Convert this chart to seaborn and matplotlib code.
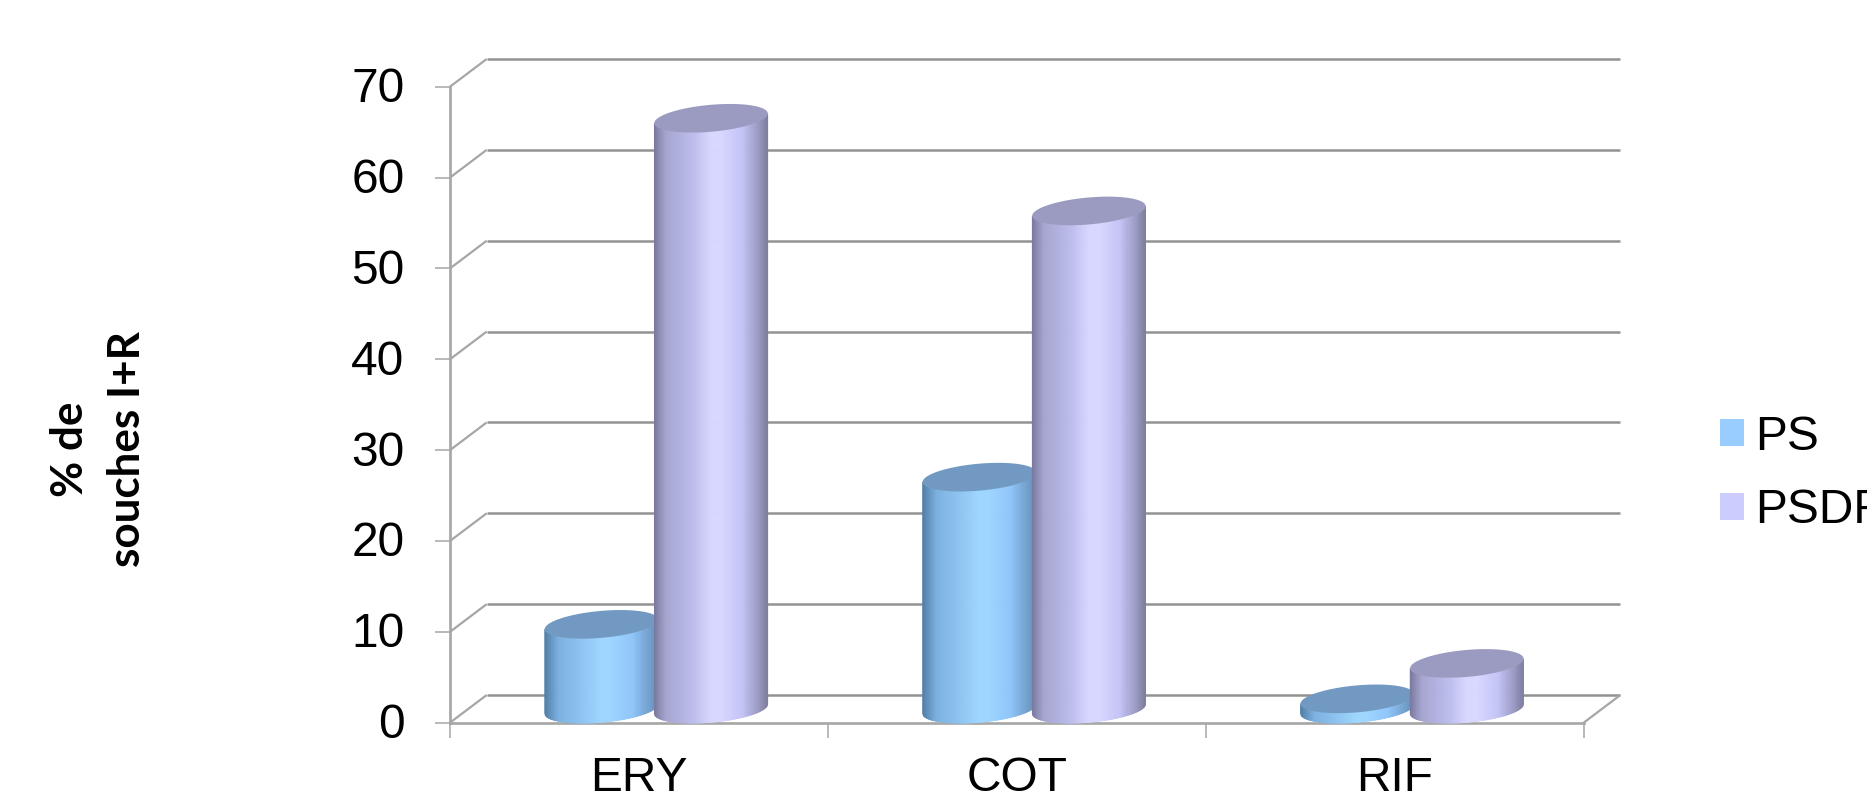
import numpy as np
import pandas as pd
import matplotlib
matplotlib.use("Agg")
import matplotlib.pyplot as plt
import seaborn as sns
from matplotlib.collections import PolyCollection
from matplotlib.colors import LinearSegmentedColormap
from matplotlib.lines import Line2D
from matplotlib.patches import Patch, Polygon
from matplotlib.transforms import Affine2D, IdentityTransform

# Resistance rates per antibiotic
categories = ["ERY", "COT", "RIF"]
series_names = ["PS", "PSDF"]
ps_values = [9.3, 25.5, 1.1]
psdf_values = [65, 54.8, 5]
y_ticks = [0, 10, 20, 30, 40, 50, 60, 70]

legend_colors = {"PS": "#99CCFF", "PSDF": "#CCCCFF"}
cap_colors = {"PS": "#7299C2", "PSDF": "#9B9BC2"}
side_stops = {
    "PS": [(0, "#527FA6"), (0.12, "#7DB0E0"), (0.5, "#9ED6FF"), (0.58, "#9ED6FF"),
           (0.78, "#90C6FA"), (1, "#668FB8")],
    "PSDF": [(0, "#7A7AA0"), (0.1, "#A5A5D0"), (0.35, "#BEBEEE"), (0.5, "#D7D7FF"),
             (0.6, "#D7D7FF"), (0.78, "#C4C4F6"), (0.92, "#9C9CC6"), (1, "#80809F")],
}

W, H = 1867, 797
sns.set_theme(style="white")
plt.rcParams["font.family"] = ["Liberation Sans", "DejaVu Sans"]
fig = plt.figure(figsize=(W / 100, H / 100), dpi=100)

# Front plane of the 3D box, in pixels from the top-left corner
left, right, top, bottom = 450.0, 1583.7, 86.7, 722.7
ax = fig.add_axes([left / W, 1 - bottom / H, (right - left) / W, (bottom - top) / H])

df = pd.DataFrame({
    "antibiotique": categories * 2,
    "groupe": [series_names[0]] * 3 + [series_names[1]] * 3,
    "pct": ps_values + psdf_values,
})
sns.barplot(data=df, x="antibiotique", y="pct", hue="groupe", order=categories,
            hue_order=series_names, palette=legend_colors, width=0.58, gap=0,
            legend=False, ax=ax)
ax.set_xlim(-0.5, 2.5)
ax.set_ylim(0, 70)
ax.set_xlabel("")

GRID = "#929292"
AXIS = "#A6A6A6"
DEPTH_X, DEPTH_Y = 36.7, 27.7
to_px = ax.transData.transform
identity = IdentityTransform()


def px_line(x0, y0, x1, y1, color, lw, z=1):
    ax.add_line(Line2D([x0, x1], [y0, y1], transform=identity, color=color, lw=lw,
                       clip_on=False, zorder=z, solid_capstyle="butt"))


# Back wall gridlines with the diagonals running along the side wall
for v in y_ticks:
    x0, y0 = to_px((-0.5, v))
    x1, _ = to_px((2.5, v))
    px_line(x0 + DEPTH_X, y0 + DEPTH_Y, x1 + DEPTH_X, y0 + DEPTH_Y, GRID, 1.8)
    px_line(x0, y0, x0 + DEPTH_X, y0 + DEPTH_Y, AXIS, 1.6)
x1, y1 = to_px((2.5, 0))
px_line(x1, y1, x1 + DEPTH_X, y1 + DEPTH_Y, AXIS, 1.6)

# Axes frame and ticks
sns.despine(ax=ax, top=True, right=True)
for side in ("left", "bottom"):
    ax.spines[side].set_color(AXIS)
    ax.spines[side].set_linewidth(1.9)
ax.set_yticks(y_ticks)
ax.set_yticklabels([str(v) for v in y_ticks])
ax.set_xticks([-0.5, 0.5, 1.5, 2.5])
ax.set_xticklabels([])
ax.set_xticks([0, 1, 2], minor=True)
ax.set_xticklabels(categories, minor=True)
ax.tick_params(axis="y", length=10.8, width=1.1, color=AXIS, pad=22, labelsize=34.5,
               labelcolor="#000000", left=True)
ax.tick_params(axis="x", which="major", length=10.8, width=1.1, color=AXIS, bottom=True)
ax.tick_params(axis="x", which="minor", length=0, pad=24, labelsize=34.5, labelcolor="#000000")
for label in ax.get_yticklabels():
    label.set_transform(label.get_transform() + Affine2D().translate(0, 2))


def cylinder(rect, name, z):
    """Redraw a flat bar as a shaded cylinder standing mid-way in the box depth."""
    rect.set_visible(False)
    x, w, h = rect.get_x(), rect.get_width(), rect.get_height()
    (xl, y0), (xr, ytop) = to_px((x, 0)), to_px((x + w, h))
    y0 += DEPTH_Y / 2
    ytop += DEPTH_Y / 2
    shift = 17.3
    cx, a = (xl + xr) / 2 + shift, (xr - xl) / 2 * 1.035
    tilt, minor = 4.8, 13.5

    edges = np.linspace(-1, 1, 161)
    front = tilt * edges - minor * np.sqrt(1 - edges ** 2)
    cmap = LinearSegmentedColormap.from_list(name, side_stops[name])
    strips = [[(cx + a * edges[i], y0 + front[i]), (cx + a * edges[i + 1], y0 + front[i + 1]),
               (cx + a * edges[i + 1], ytop + front[i + 1]), (cx + a * edges[i], ytop + front[i])]
              for i in range(len(edges) - 1)]
    colors = cmap(np.linspace(0, 1, len(strips)))
    ax.add_collection(PolyCollection(strips, facecolors=colors, edgecolors=colors, linewidths=0.5,
                                     transform=identity, clip_on=False, zorder=z), autolim=False)
    t = np.linspace(0, 2 * np.pi, 120)
    ring = np.column_stack([cx + a * np.cos(t), ytop + tilt * np.cos(t) + minor * np.sin(t)])
    ax.add_patch(Polygon(ring, closed=True, facecolor=cap_colors[name], edgecolor="none",
                         transform=identity, clip_on=False, zorder=z + 0.1))


z = 3
for container, name in zip(ax.containers, series_names):
    for rect in container:
        cylinder(rect, name, z)
        z += 1

ax.set_ylabel("% de\nsouches I+R", fontsize=31.7, fontweight="bold", family=["Lato", "DejaVu Sans"],
              color="#000000", linespacing=1.53, rotation=90, ha="center", va="center")
ax.yaxis.set_label_coords(98.5 / W, 1 - 449.5 / H, transform=fig.transFigure)

handles = [Patch(facecolor=legend_colors[n], edgecolor="none", label=n) for n in series_names]
ax.legend(handles=handles, loc="upper left", bbox_to_anchor=(1720 / W, 1 - 414.5 / H),
          bbox_transform=fig.transFigure, frameon=False, fontsize=34.5, handlelength=0.5,
          handleheight=0.5, handletextpad=0.24, labelspacing=0.6, borderpad=0, borderaxespad=0,
          labelcolor="#000000")

fig.savefig("out.png", dpi=100, facecolor="white")
